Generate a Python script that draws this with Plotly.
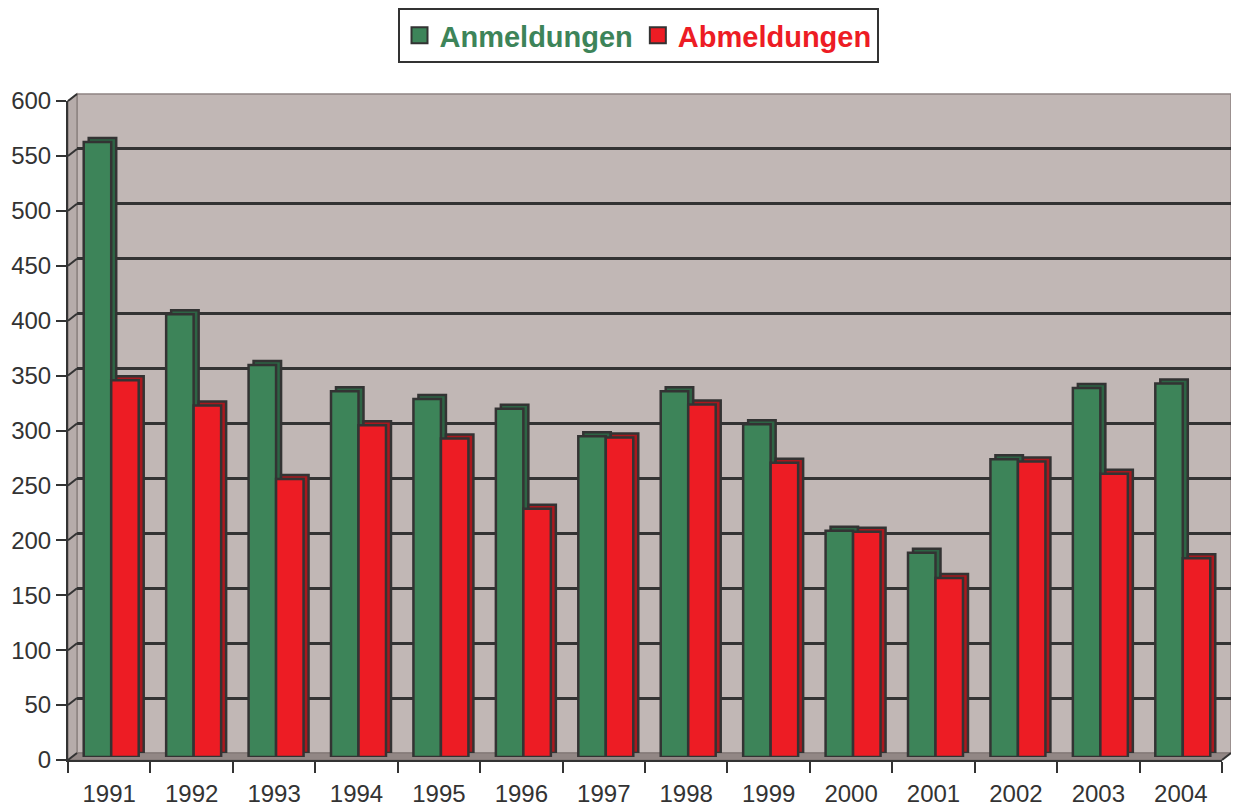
import plotly.graph_objects as go

# ---- data ----
years = ["1991", "1992", "1993", "1994", "1995", "1996", "1997",
         "1998", "1999", "2000", "2001", "2002", "2003", "2004"]
anmeldungen = [560, 403, 357, 333, 326, 317, 292, 333, 303, 206, 186, 271, 336, 340]
abmeldungen = [343, 320, 253, 302, 290, 226, 291, 321, 268, 205, 163, 269, 258, 181]
y_ticks = list(range(0, 601, 50))
series_names = ["Anmeldungen", "Abmeldungen"]

# ---- styling ----
OFF = 8                      # page body margin of the html page
W, H = 1239 - OFF, 811 - OFF
GREEN, RED = "#3d8459", "#ed1c24"
GREEN_D, RED_D = "#2d6444", "#a8181e"
DARK = "#333333"
WALL = "#c1b7b5"
FONT = "Liberation Sans, Arial, sans-serif"


def fx(p):
    return (p - OFF) / W


def fy(p):
    return 1 - (p - OFF) / H


# pixel frames: front axes, back wall, bar faces, bar depth
FRONT = (68, 1222, 101, 760)
DX, DY = 9, -7
BACK = (FRONT[0] + DX, FRONT[1] + DX, FRONT[2] + DY, FRONT[3] + DY)
BARF = (FRONT[0] + 2, FRONT[1] + 2, FRONT[2] - 3, FRONT[3] - 3)
BARD = (BARF[0] + 5, BARF[1] + 5, BARF[2] - 4, BARF[3] - 4)


def dom(fr):
    return [fx(fr[0]), fx(fr[1])], [fy(fr[3]), fy(fr[2])]


fig = go.Figure()

# subplot 1: back wall grid (dummy trace)
fig.add_trace(go.Scatter(x=[None], y=[None], xaxis="x", yaxis="y",
                         showlegend=False, hoverinfo="skip"))

# subplot 2: depth of bars
for vals, col in ((anmeldungen, GREEN_D), (abmeldungen, RED_D)):
    fig.add_trace(go.Bar(x=years, y=vals, xaxis="x2", yaxis="y2",
                         marker=dict(color=col, line=dict(color=DARK, width=2.5)),
                         showlegend=False, hoverinfo="skip"))

# subplot 3: front faces of bars
for vals, col, nm in ((anmeldungen, GREEN, series_names[0]),
                      (abmeldungen, RED, series_names[1])):
    fig.add_trace(go.Bar(x=years, y=vals, xaxis="x3", yaxis="y3", name=nm,
                         marker=dict(color=col, line=dict(color=DARK, width=2.5)),
                         showlegend=False))

# subplot 4: front axes + legend entries
for nm, col in zip(series_names, (GREEN, RED)):
    fig.add_trace(go.Scatter(
        x=years, y=[None] * len(years), xaxis="x4", yaxis="y4", mode="markers",
        name=f"<span style='color:{col}'><b>{nm}</b></span>",
        marker=dict(symbol="square", size=20, color=col,
                    line=dict(color=DARK, width=2)),
        showlegend=True, hoverinfo="skip"))

dx1, dy1 = dom(BACK)
dx2, dy2 = dom(BARD)
dx3, dy3 = dom(BARF)
dx4, dy4 = dom(FRONT)

hidden_cat = dict(type="category", categoryorder="array", categoryarray=years,
                  range=[-0.5, len(years) - 0.5], visible=False)

fig.update_layout(
    template="none",
    width=W, height=H, autosize=False,
    margin=dict(l=0, r=0, t=0, b=0, pad=0, autoexpand=False),
    paper_bgcolor="white", plot_bgcolor="rgba(0,0,0,0)",
    font=dict(family=FONT, color=DARK),
    barmode="group", bargap=0.333, bargroupgap=0,
    xaxis=dict(domain=dx1, anchor="y", range=[0, 1], visible=False),
    yaxis=dict(domain=dy1, anchor="x", range=[0, 600], tickvals=y_ticks[1:-1],
               showticklabels=False, ticks="", showgrid=True,
               gridcolor=DARK, gridwidth=2.5, zeroline=False, showline=False),
    xaxis2=dict(domain=dx2, anchor="y2", **hidden_cat),
    yaxis2=dict(domain=dy2, anchor="x2", range=[0, 600], visible=False),
    xaxis3=dict(domain=dx3, anchor="y3", **hidden_cat),
    yaxis3=dict(domain=dy3, anchor="x3", range=[0, 600], visible=False),
    xaxis4=dict(domain=dx4, anchor="y4", type="category", categoryorder="array",
                categoryarray=years, range=[-0.5, len(years) - 0.5],
                tickson="boundaries", ticks="outside", ticklen=11, tickwidth=2,
                tickcolor=DARK, showline=True, linecolor=DARK, linewidth=2,
                showgrid=False, automargin=False, ticklabelstandoff=11,
                tickfont=dict(size=24, color=DARK, family=FONT)),
    yaxis4=dict(domain=dy4, anchor="x4", range=[0, 600], tickvals=y_ticks,
                ticks="outside", ticklen=10, tickwidth=2, tickcolor=DARK,
                showline=True, linecolor=DARK, linewidth=2, showgrid=False,
                zeroline=False, automargin=False,
                tickfont=dict(size=24, color=DARK, family=FONT)),
    legend=dict(orientation="h", x=fx(638), xanchor="center", y=fy(8), yanchor="top",
                bgcolor="white", bordercolor=DARK, borderwidth=2,
                font=dict(size=29, family=FONT), itemclick=False),
)

# walls (styling)
shapes = []
shapes.append(dict(type="rect", xref="paper", yref="paper", layer="below",
                   x0=fx(BACK[0]), x1=fx(BACK[1]), y0=fy(BACK[3]), y1=fy(BACK[2]),
                   fillcolor=WALL, line=dict(color="#8e8482", width=1.5)))


def pth(pts):
    return "M " + " L ".join(f"{fx(a):.5f},{fy(b):.5f}" for a, b in pts) + " Z"


shapes.append(dict(type="path", xref="paper", yref="paper", layer="below",
                   path=pth([(FRONT[0], FRONT[2]), (BACK[0], BACK[2]),
                             (BACK[0], BACK[3]), (FRONT[0], FRONT[3])]),
                   fillcolor="#b6acaa", line=dict(color="#8e8482", width=1.5)))
shapes.append(dict(type="path", xref="paper", yref="paper", layer="below",
                   path=pth([(FRONT[0], FRONT[3]), (BACK[0], BACK[3]),
                             (BACK[1], BACK[3]), (FRONT[1], FRONT[3])]),
                   fillcolor="#928785", line=dict(color="#7d7371", width=1)))

# diagonal tick connectors from front axis to back wall
scale = (FRONT[3] - FRONT[2]) / 600.0
for v in y_ticks:
    ya = FRONT[3] - v * scale
    shapes.append(dict(type="line", xref="paper", yref="paper", layer="above",
                       x0=fx(FRONT[0]), y0=fy(ya), x1=fx(BACK[0]), y1=fy(ya + DY),
                       line=dict(color=DARK, width=2)))
shapes.append(dict(type="line", xref="paper", yref="paper", layer="above",
                   x0=fx(FRONT[1]), y0=fy(FRONT[3]), x1=fx(BACK[1]), y1=fy(BACK[3]),
                   line=dict(color=DARK, width=2)))
fig.update_layout(shapes=shapes)

fig.write_html("out.html")
